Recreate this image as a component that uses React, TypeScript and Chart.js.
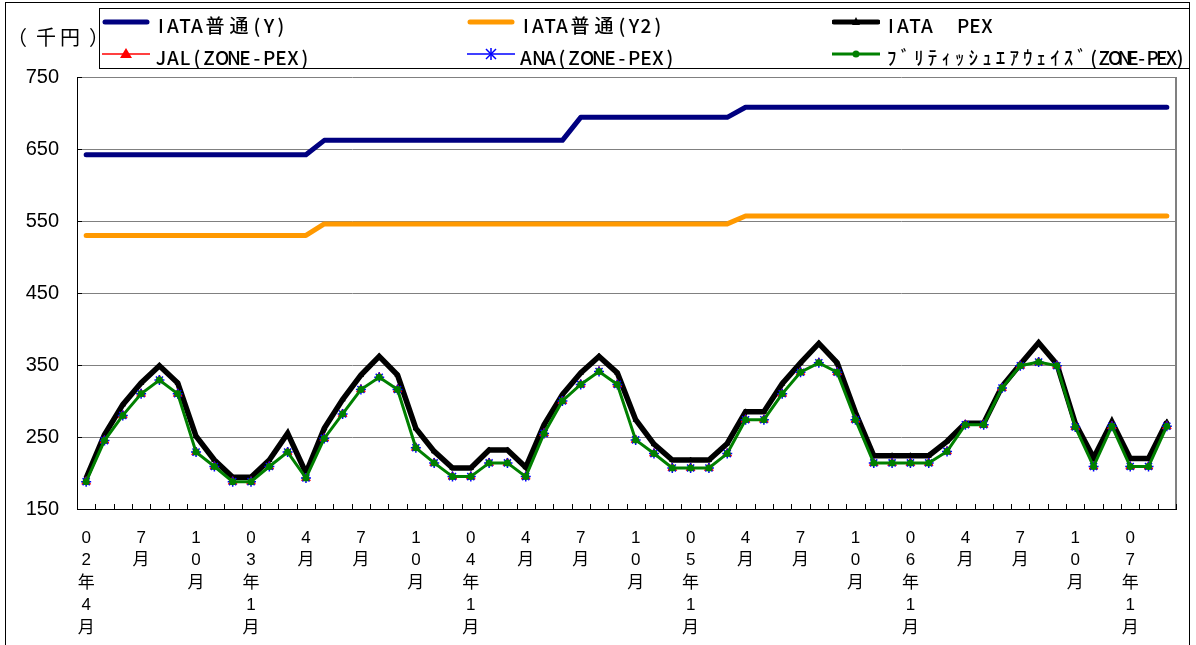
import { useEffect, useRef } from "react";
import { Chart, registerables } from "chart.js";

Chart.register(...registerables);

// ---- data ----
const months: string[] = [
  "02年4月", "5月", "6月", "7月", "8月", "9月", "10月", "11月", "12月", "03年1月", "2月", "3月",
  "4月", "5月", "6月", "7月", "8月", "9月", "10月", "11月", "12月", "04年1月", "2月", "3月",
  "4月", "5月", "6月", "7月", "8月", "9月", "10月", "11月", "12月", "05年1月", "2月", "3月",
  "4月", "5月", "6月", "7月", "8月", "9月", "10月", "11月", "12月", "06年1月", "2月", "3月",
  "4月", "5月", "6月", "7月", "8月", "9月", "10月", "11月", "12月", "07年1月", "2月", "3月",
];

const iataY: number[] = [
  642, 642, 642, 642, 642, 642, 642, 642, 642, 642, 642, 642,
  642, 662, 662, 662, 662, 662, 662, 662, 662, 662, 662, 662,
  662, 662, 662, 694, 694, 694, 694, 694, 694, 694, 694, 694,
  708, 708, 708, 708, 708, 708, 708, 708, 708, 708, 708, 708,
  708, 708, 708, 708, 708, 708, 708, 708, 708, 708, 708, 708,
];

const iataY2: number[] = [
  530, 530, 530, 530, 530, 530, 530, 530, 530, 530, 530, 530,
  530, 546, 546, 546, 546, 546, 546, 546, 546, 546, 546, 546,
  546, 546, 546, 546, 546, 546, 546, 546, 546, 546, 546, 546,
  557, 557, 557, 557, 557, 557, 557, 557, 557, 557, 557, 557,
  557, 557, 557, 557, 557, 557, 557, 557, 557, 557, 557, 557,
];

const iataPex: number[] = [
  193, 253, 295, 325, 349, 325, 251, 218, 194, 194, 218, 255,
  200, 262, 302, 336, 362, 336, 262, 230, 207, 207, 232, 232,
  208, 267, 309, 339, 362, 339, 274, 240, 218, 218, 218, 241,
  285, 285, 324, 353, 380, 353, 284, 224, 224, 224, 224, 244,
  269, 269, 320, 351, 381, 351, 269, 221, 271, 220, 220, 271,
];

const jal: number[] = [
  188, 245, 280, 310, 329, 310, 229, 209, 188, 188, 209, 229,
  193, 248, 282, 316, 333, 316, 235, 214, 195, 195, 214, 214,
  195, 255, 300, 323, 341, 323, 246, 227, 207, 207, 207, 227,
  274, 274, 310, 340, 353, 340, 274, 214, 214, 214, 214, 230,
  267, 267, 318, 349, 354, 349, 264, 209, 265, 209, 209, 265,
];

const ana: number[] = [
  188, 245, 280, 310, 329, 310, 229, 209, 188, 188, 209, 229,
  193, 248, 282, 316, 333, 316, 235, 214, 195, 195, 214, 214,
  195, 255, 300, 323, 341, 323, 246, 227, 207, 207, 207, 227,
  274, 274, 310, 340, 353, 340, 274, 214, 214, 214, 214, 230,
  267, 267, 318, 349, 354, 349, 264, 209, 265, 209, 209, 265,
];

const british: number[] = [
  188, 245, 280, 310, 329, 310, 229, 209, 188, 188, 209, 229,
  193, 248, 282, 316, 333, 316, 235, 214, 195, 195, 214, 214,
  195, 255, 300, 323, 341, 323, 246, 227, 207, 207, 207, 227,
  274, 274, 310, 340, 353, 340, 274, 214, 214, 214, 214, 230,
  267, 267, 318, 349, 354, 349, 264, 209, 265, 209, 209, 265,
];

const seriesNames: string[] = [
  "IATA普通(Y)",
  "IATA普通(Y2)",
  "IATA　PEX",
  "JAL(ZONE-PEX)",
  "ANA(ZONE-PEX)",
  "ﾌﾞﾘﾃｨｯｼｭｴｱｳｪｲｽﾞ(ZONE-PEX)",
];

const yTicks: number[] = [150, 250, 350, 450, 550, 650, 750];
const unitLabel = "（千円）";

const NAVY = "#000080";
const ORANGE = "#FF9900";
const BLACK = "#000000";
const RED = "#FF0000";
const BLUE = "#0000FF";
const GREEN = "#008000";

const LATIN = "'Liberation Sans', 'Noto Sans CJK JP', sans-serif";
const CJK = "'Noto Sans CJK JP', sans-serif";

const framePlugin = {
  id: "framePlugin",
  beforeDatasetsDraw(chart: any) {
    const { ctx, chartArea } = chart;
    const xs = chart.scales.x;
    const ys = chart.scales.y;
    ctx.save();
    ctx.strokeStyle = "#808080";
    ctx.lineWidth = 2;
    ctx.beginPath();
    ctx.moveTo(chartArea.right, chartArea.top);
    ctx.lineTo(chartArea.right, chartArea.bottom);
    ctx.stroke();
    ctx.strokeStyle = "#000";
    ctx.lineWidth = 1;
    ctx.beginPath();
    for (let i = 0; i <= months.length; i++) {
      const x = Math.round(xs.getPixelForValue(i - 0.5)) + 0.5;
      ctx.moveTo(x, chartArea.bottom);
      ctx.lineTo(x, chartArea.bottom - 5);
    }
    for (const v of yTicks) {
      const y = Math.round(ys.getPixelForValue(v)) + 0.5;
      ctx.moveTo(chartArea.left, y);
      ctx.lineTo(chartArea.left + 5, y);
    }
    ctx.stroke();
    ctx.restore();
  },
};

function MonoText({
  text,
  half = 12,
  kana = 12,
  full = 24,
  parenShift = 0,
}: {
  text: string;
  half?: number;
  kana?: number;
  full?: number;
  parenShift?: number;
}) {
  return (
    <>
      {Array.from(text).map((ch, i) => {
        const c = ch.charCodeAt(0);
        const isKana = c >= 0xff61 && c <= 0xff9f;
        const isHalf = c < 0x100;
        const isSpace = ch === " " || ch === "\u3000";
        const shift = ch === "（" ? -parenShift : ch === "）" ? parenShift : 0;
        return (
          <span
            key={i}
            style={{
              display: "inline-block",
              width: isHalf ? half : isKana ? kana : full,
              textAlign: "center",
              transform: shift ? `translateX(${shift}px)` : undefined,
            }}
          >
            {isSpace ? "" : ch}
          </span>
        );
      })}
    </>
  );
}

function Swatch({ kind }: { kind: number }) {
  const w = 48;
  const h = 20;
  const cy = 10;
  let content: any = null;
  if (kind === 0 || kind === 1) {
    content = (
      <line x1={3} y1={cy} x2={w - 3} y2={cy} stroke={kind === 0 ? NAVY : ORANGE} strokeWidth={5} strokeLinecap="round" />
    );
  } else if (kind === 2) {
    content = (
      <>
        <line x1={2} y1={cy} x2={w - 2} y2={cy} stroke={BLACK} strokeWidth={5} strokeLinecap="round" />
        <polygon points={`${w / 2 - 4},${cy + 3} ${w / 2 + 4},${cy + 3} ${w / 2},${cy - 5}`} fill={BLACK} />
      </>
    );
  } else if (kind === 3) {
    content = (
      <>
        <line x1={0} y1={cy} x2={w} y2={cy} stroke={RED} strokeWidth={1.5} />
        <polygon points={`${w / 2 - 6},${cy + 4} ${w / 2 + 6},${cy + 4} ${w / 2},${cy - 6}`} fill={RED} />
      </>
    );
  } else if (kind === 4) {
    const c = w / 2;
    content = (
      <>
        <line x1={0} y1={cy} x2={w} y2={cy} stroke={BLUE} strokeWidth={1.5} />
        <line x1={c - 5} y1={cy - 5} x2={c + 5} y2={cy + 5} stroke={BLUE} strokeWidth={1.5} />
        <line x1={c + 5} y1={cy - 5} x2={c - 5} y2={cy + 5} stroke={BLUE} strokeWidth={1.5} />
        <line x1={c} y1={cy - 6} x2={c} y2={cy + 6} stroke={BLUE} strokeWidth={1.5} />
      </>
    );
  } else {
    content = (
      <>
        <line x1={0} y1={cy} x2={w} y2={cy} stroke={GREEN} strokeWidth={3} />
        <circle cx={w / 2} cy={cy} r={3.5} fill={GREEN} />
      </>
    );
  }
  return (
    <svg width={w} height={h} style={{ display: "block" }}>
      {content}
    </svg>
  );
}

export default function App() {
  const ref = useRef<HTMLCanvasElement>(null);

  useEffect(() => {
    if (!ref.current) return;
    const chart = new Chart(ref.current, {
      type: "line",
      data: {
        labels: months,
        datasets: [
          {
            label: seriesNames[0],
            data: iataY,
            borderColor: NAVY,
            backgroundColor: NAVY,
            borderWidth: 5,
            pointRadius: 0,
            borderCapStyle: "round",
            borderJoinStyle: "round",
            tension: 0,
            order: 5,
          },
          {
            label: seriesNames[1],
            data: iataY2,
            borderColor: ORANGE,
            backgroundColor: ORANGE,
            borderWidth: 5,
            pointRadius: 0,
            borderCapStyle: "round",
            borderJoinStyle: "round",
            tension: 0,
            order: 4,
          },
          {
            label: seriesNames[2],
            data: iataPex,
            borderColor: BLACK,
            backgroundColor: BLACK,
            borderWidth: 5.5,
            pointStyle: "triangle",
            pointRadius: 3,
            pointBorderWidth: 1,
            borderJoinStyle: "miter",
            tension: 0,
            order: 3,
          },
          {
            label: seriesNames[3],
            data: jal,
            borderColor: RED,
            backgroundColor: RED,
            borderWidth: 1,
            pointStyle: "triangle",
            pointRadius: 5,
            pointBorderWidth: 1,
            tension: 0,
            order: 2,
          },
          {
            label: seriesNames[4],
            data: ana,
            borderColor: BLUE,
            backgroundColor: BLUE,
            borderWidth: 1,
            pointStyle: "star",
            pointRadius: 5,
            pointBorderWidth: 1.5,
            tension: 0,
            order: 1,
          },
          {
            label: seriesNames[5],
            data: british,
            borderColor: GREEN,
            backgroundColor: GREEN,
            borderWidth: 3,
            pointStyle: "circle",
            pointRadius: 3.5,
            pointBorderWidth: 0,
            tension: 0,
            order: 0,
          },
        ],
      },
      options: {
        responsive: false,
        animation: false,
        devicePixelRatio: 1,
        layout: { padding: { top: 77, right: 20, left: 0, bottom: 0 } },
        plugins: {
          legend: { display: false },
          tooltip: { enabled: false },
        },
        scales: {
          x: {
            type: "category",
            offset: true,
            grid: { display: true, drawOnChartArea: false, drawTicks: false },
            border: { display: true, color: "#000", width: 1 },
            ticks: {
              autoSkip: false,
              maxRotation: 0,
              minRotation: 0,
              padding: 18,
              color: "#000",
              font: { size: 17, family: LATIN, lineHeight: 1.32 },
              callback: (_v: any, i: number) => (i % 3 === 0 ? Array.from(months[i]) : ""),
            },
            afterFit: (s: any) => {
              s.height = 136;
            },
          },
          y: {
            min: 150,
            max: 750,
            grid: { color: "#808080", lineWidth: 1, drawTicks: false },
            border: { display: true, color: "#000", width: 1 },
            ticks: {
              stepSize: 100,
              padding: 18,
              color: "#000",
              font: { size: 20, family: LATIN },
            },
            afterFit: (s: any) => {
              s.width = 77;
            },
          },
        },
      },
      plugins: [framePlugin],
    } as any);
    return () => chart.destroy();
  }, []);

  const colsSwatch = [102, 467, 832];
  const colsText = [155, 520, 885];
  const rowsY = [23, 55];

  return (
    <div
      style={{
        position: "fixed",
        left: 0,
        top: 0,
        width: 1196,
        height: 645,
        background: "#fff",
        overflow: "hidden",
      }}
    >
      <div
        style={{
          position: "absolute",
          left: 5,
          top: 2,
          width: 1185,
          height: 700,
          border: "1px solid #000",
          boxSizing: "border-box",
        }}
      />
      <canvas
        ref={ref}
        width={1196}
        height={645}
        style={{ position: "absolute", left: 0, top: 0, width: 1196, height: 645 }}
      />
      <div
        style={{
          position: "absolute",
          left: 10,
          top: 22,
          height: 30,
          lineHeight: "30px",
          fontFamily: CJK,
          fontSize: 20,
          color: "#000",
          whiteSpace: "nowrap",
        }}
      >
        <MonoText text={unitLabel} full={24} parenShift={5} />
      </div>
      <div
        style={{
          position: "absolute",
          left: 99,
          top: 8,
          width: 1091,
          height: 61,
          border: "1px solid #000",
          boxSizing: "border-box",
          background: "#fff",
        }}
      />
      {seriesNames.map((name, k) => {
        const col = k % 3;
        const row = Math.floor(k / 3);
        const cy = rowsY[row];
        const squeezed = k === 5;
        return (
          <div key={k}>
            <div style={{ position: "absolute", left: colsSwatch[col], top: cy - 11 }}>
              <Swatch kind={k} />
            </div>
            <div
              style={{
                position: "absolute",
                left: colsText[col],
                top: cy - 12,
                height: 28,
                lineHeight: "28px",
                fontFamily: CJK,
                fontSize: 19,
                fontWeight: 500,
                color: "#000",
                whiteSpace: "nowrap",
              }}
            >
              <MonoText
                text={name}
                half={squeezed ? 9.6 : 12}
                kana={squeezed ? 13.6 : 12}
              />
            </div>
          </div>
        );
      })}
    </div>
  );
}
